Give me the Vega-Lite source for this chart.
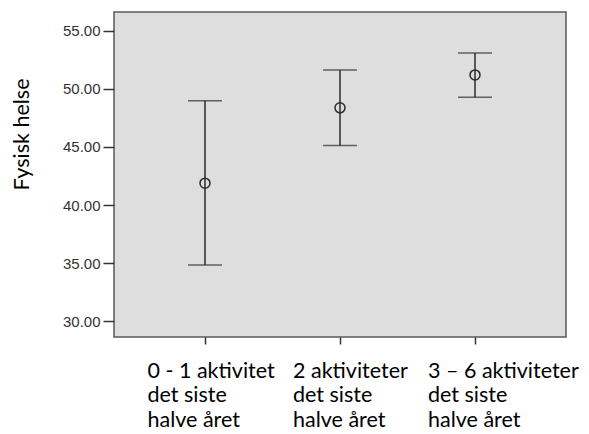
{
  "$schema": "https://vega.github.io/schema/vega-lite/v6.json",
  "autosize": "none",
  "width": 452,
  "height": 325,
  "padding": {"left": 114, "top": 12, "right": 23, "bottom": 97},
  "background": "#ffffff",
  "config": {
    "view": {"fill": "#dedede", "stroke": "#5a5a5a", "strokeWidth": 1.5},
    "axis": {"grid": false, "domain": false, "tickColor": "#333333", "tickWidth": 1.5}
  },
  "data": {
    "values": [
      {"group": "0 - 1 aktivitet det siste halve året", "mean": 41.88, "low": 34.84, "high": 48.96},
      {"group": "2 aktiviteter det siste halve året", "mean": 48.36, "low": 45.12, "high": 51.62},
      {"group": "3 – 6 aktiviteter det siste halve året", "mean": 51.19, "low": 49.27, "high": 53.08}
    ]
  },
  "encoding": {
    "x": {
      "field": "group",
      "type": "nominal",
      "sort": null,
      "scale": {"type": "point", "padding": 0.674},
      "axis": {
        "title": null,
        "labelAngle": 0,
        "tickSize": 7,
        "labelExpr": "[replace(datum.label, ' det siste halve året', ''), 'det siste', 'halve året']",
        "labelFont": "Lato",
        "labelFontSize": 21.5,
        "labelColor": "#000000",
        "labelAlign": "left",
        "labelBaseline": "top",
        "labelLineHeight": 24.8,
        "labelPadding": 16,
        "labelOffset": {"condition": {"test": "datum.value == '0 - 1 aktivitet det siste halve året'", "value": -58}, "value": -47.5}
      }
    }
  },
  "layer": [
    {
      "mark": {"type": "rule", "color": "#2b2b2b", "strokeWidth": 1.5},
      "encoding": {
        "y": {
          "field": "low",
          "type": "quantitative",
          "scale": {"domain": [28.65, 56.6], "nice": false, "zero": false},
          "axis": {
            "title": "Fysisk helse",
            "titleFont": "Lato",
            "titleFontSize": 21.5,
            "titleFontWeight": "normal",
            "titleColor": "#000000",
            "titleAngle": -90,
            "titleX": -92,
            "titleY": 122,
            "titleAlign": "center",
            "titleBaseline": "middle",
            "values": [30, 35, 40, 45, 50, 55],
            "format": ".2f",
            "tickSize": 11,
            "labelPadding": 3,
            "labelFont": "Liberation Sans",
            "labelFontSize": 15,
            "labelColor": "#333333"
          }
        },
        "y2": {"field": "high"}
      }
    },
    {
      "mark": {"type": "tick", "color": "#2b2b2b", "size": 34, "thickness": 1.5},
      "encoding": {"y": {"field": "low", "type": "quantitative"}}
    },
    {
      "mark": {"type": "tick", "color": "#2b2b2b", "size": 34, "thickness": 1.5},
      "encoding": {"y": {"field": "high", "type": "quantitative"}}
    },
    {
      "mark": {"type": "point", "shape": "circle", "size": 100, "filled": false, "color": "#2b2b2b", "strokeWidth": 1.5, "opacity": 1},
      "encoding": {"y": {"field": "mean", "type": "quantitative"}}
    }
  ]
}
